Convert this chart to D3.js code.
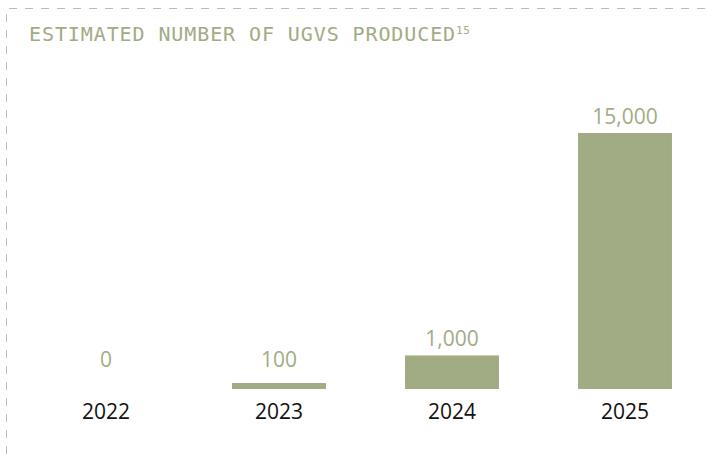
<!DOCTYPE html>
<html>
<head>
<meta charset="utf-8">
<script src="https://cdn.jsdelivr.net/npm/d3@7"></script>
<style>
  html, body { margin: 0; padding: 0; background: #fff; }
  svg { display: block; }
</style>
</head>
<body>
<div id="chart"></div>
<script>
'use strict';

// Chart data.
const years = ['2022', '2023', '2024', '2025'];
const produced = [0, 100, 1000, 15000];
const title = 'ESTIMATED NUMBER OF UGVS PRODUCED';
const footnote = '15';

const width = 706;
const height = 454;
const olive = '#a1ab84';
const baseline = 389;

const data = years.map((year, i) => ({ year, value: produced[i] }));

const svg = d3.select('#chart').append('svg')
  .attr('width', width)
  .attr('height', height);

// Dashed frame on the top and left edges.
svg.append('path')
  .attr('d', `M6.5,${height} V8.5 H${width}`)
  .attr('fill', 'none')
  .attr('stroke', '#b9bda9')
  .attr('stroke-width', 1)
  .attr('stroke-dasharray', '8,8');

const titleText = svg.append('text')
  .attr('x', 29)
  .attr('y', 41)
  .attr('fill', olive)
  .style('font-family', '"DejaVu Sans Mono", monospace')
  .style('font-size', '20px')
  .style('letter-spacing', '0.9px')
  .text(title);
titleText.append('tspan')
  .attr('dy', -7)
  .style('font-size', '11px')
  .style('letter-spacing', '0.5px')
  .text(footnote);

// Bars sit at uneven-looking spots in the source; a band scale is close enough.
const x = d3.scaleBand()
  .domain(years)
  .range([19.5, 711.5])
  .paddingInner(0.457)
  .paddingOuter(0.2285);

// The source bars are not linear in value, a power scale gets near.
const y = d3.scalePow()
  .exponent(0.75)
  .domain([0, d3.max(produced)])
  .range([baseline, 133]);

const bars = svg.append('g').selectAll('g.bar')
  .data(data)
  .join('g')
  .classed('bar', true);

bars.append('rect')
  .attr('x', d => x(d.year))
  .attr('y', d => y(d.value))
  .attr('width', x.bandwidth())
  .attr('height', d => baseline - y(d.value))
  .attr('fill', olive);

bars.append('text')
  .attr('x', d => x(d.year) + x.bandwidth() / 2)
  .attr('y', d => Math.min(y(d.value), baseline - 13) - 9)
  .attr('text-anchor', 'middle')
  .attr('fill', olive)
  .style('font-family', '"Open Sans", sans-serif')
  .style('font-size', '21px')
  .text(d => d.value.toLocaleString('en-US'));

const xAxis = svg.append('g')
  .attr('transform', `translate(0,${baseline})`)
  .call(d3.axisBottom(x).tickSize(0).tickPadding(0));

xAxis.select('.domain').remove();
xAxis.selectAll('text')
  .attr('dy', null)
  .attr('y', 29.5)
  .attr('fill', '#111')
  .style('font-family', '"Open Sans", sans-serif')
  .style('font-size', '21px');
</script>
</body>
</html>
